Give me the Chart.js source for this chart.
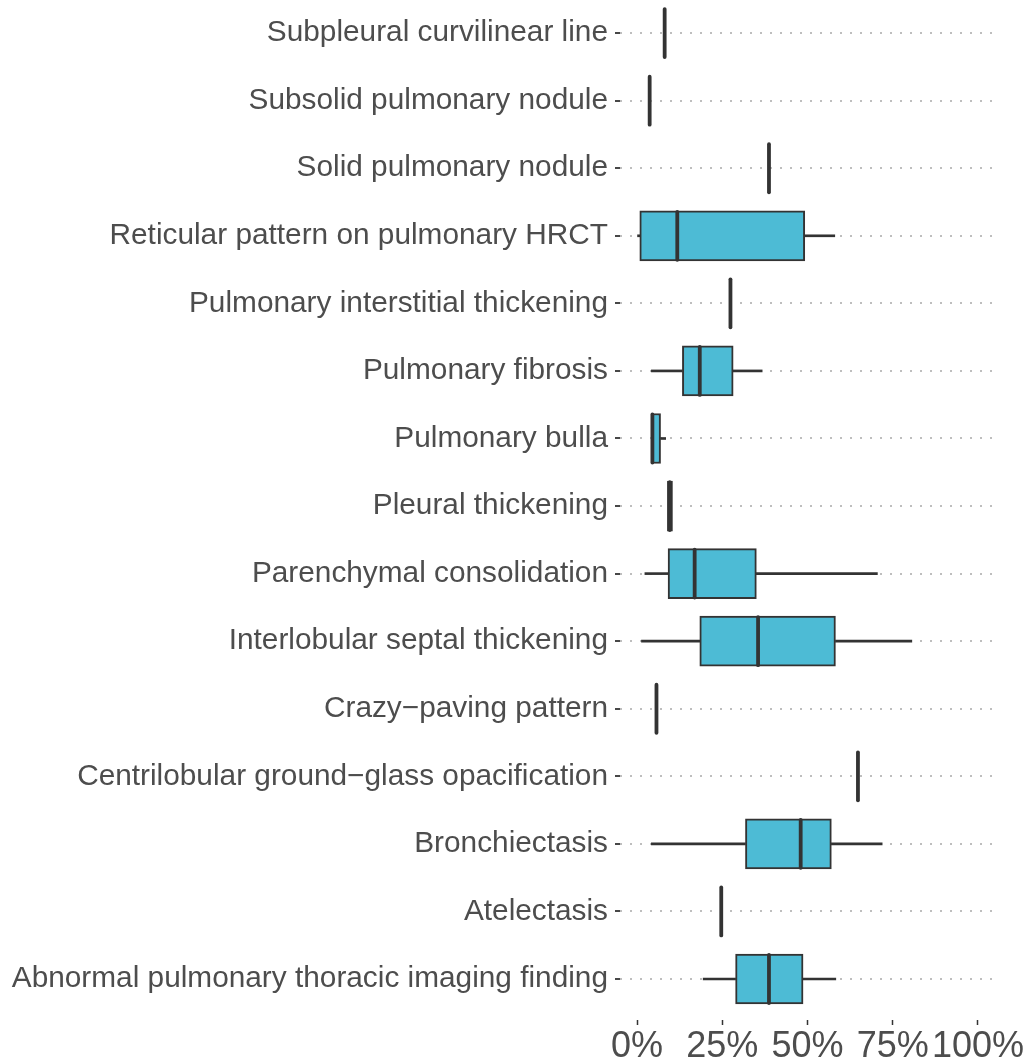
<!DOCTYPE html>
<html>
<head>
<meta charset="utf-8">
<script src="https://cdn.jsdelivr.net/npm/chart.js@4"></script>
<style>
  body { margin: 0; background: #fff; }
  #wrap { width: 1030px; height: 1063px; position: relative; }
</style>
</head>
<body>
<div id="wrap"><canvas id="boxChart"></canvas></div>
<script>
// categories, top to bottom
const categories = [
    'Subpleural curvilinear line',
    'Subsolid pulmonary nodule',
    'Solid pulmonary nodule',
    'Reticular pattern on pulmonary HRCT',
    'Pulmonary interstitial thickening',
    'Pulmonary fibrosis',
    'Pulmonary bulla',
    'Pleural thickening',
    'Parenchymal consolidation',
    'Interlobular septal thickening',
    'Crazy\u2212paving pattern',
    'Centrilobular ground\u2212glass opacification',
    'Bronchiectasis',
    'Atelectasis',
    'Abnormal pulmonary thoracic imaging finding'
];

// box plot stats in percent
const whiskerLow  = [ 8.1, 3.7, 38.7,  0.0, 27.4,  4.2, 4.2,  8.9,  2.3,  1.3, 5.7, 64.8,  4.2, 24.7, 19.4];
const boxLow      = [ 8.1, 3.7, 38.7,  0.8, 27.4, 13.3, 4.2,  8.9,  9.1, 18.4, 5.7, 64.8, 31.8, 24.7, 28.9];
const medians     = [ 8.1, 3.7, 38.7, 11.8, 27.4, 18.4, 4.5,  9.6, 16.9, 35.5, 5.7, 64.8, 48.0, 24.7, 38.7];
const boxHigh     = [ 8.1, 3.7, 38.7, 49.2, 27.4, 28.2, 6.9, 10.4, 35.0, 58.2, 5.7, 64.8, 57.0, 24.7, 48.7];
const whiskerHigh = [ 8.1, 3.7, 38.7, 58.0, 27.4, 36.7, 8.4, 10.4, 70.5, 80.6, 5.7, 64.8, 71.9, 24.7, 58.3];

const xTicks = [0, 25, 50, 75, 100];

// only keep segments that have a length
function segments(lo, hi) {
    const out = [];
    categories.forEach((c, i) => {
        if (hi[i] > lo[i]) out.push({ x: [lo[i], hi[i]], y: i });
    });
    return out;
}
const boxData = segments(boxLow, boxHigh);
const lowWhisker = segments(whiskerLow, boxLow);
const highWhisker = segments(boxHigh, whiskerHigh);

// median lines, drawn over the boxes
const medianPlugin = {
    id: 'medians',
    afterDatasetsDraw(chart) {
        const ctx = chart.ctx;
        const xs = chart.scales.x, ys = chart.scales.y;
        ctx.save();
        ctx.strokeStyle = '#333333';
        ctx.lineWidth = 3.8;
        ctx.lineCap = 'round';
        medians.forEach((m, i) => {
            const x = xs.getPixelForValue(m);
            const y = ys.getPixelForValue(i);
            ctx.beginPath();
            ctx.moveTo(x, y - 24);
            ctx.lineTo(x, y + 24);
            ctx.stroke();
        });
        ctx.restore();
    }
};

new Chart(document.getElementById('boxChart').getContext('2d'), {
    type: 'bar',
    data: {
        datasets: [{
            label: 'box',
            data: boxData,
            backgroundColor: '#4DBBD5',
            borderColor: '#333333',
            borderWidth: 2,
            borderSkipped: false,
            barThickness: 50,
            order: 1
        }, {
            label: 'whisker low',
            data: lowWhisker,
            backgroundColor: '#333333',
            borderWidth: 0,
            barThickness: 2,
            order: 2
        }, {
            label: 'whisker high',
            data: highWhisker,
            backgroundColor: '#333333',
            borderWidth: 0,
            barThickness: 2,
            order: 2
        }]
    },
    options: {
        indexAxis: 'y',
        responsive: true,
        maintainAspectRatio: false,
        animation: false,
        grouped: false,
        layout: { padding: { top: 0, right: 35, bottom: 0, left: 0 } },
        plugins: {
            legend: { display: false },
            tooltip: { enabled: false }
        },
        scales: {
            x: {
                type: 'linear',
                min: -5,
                max: 105,
                afterBuildTicks: (scale) => { scale.ticks = xTicks.map(v => ({ value: v })); },
                afterFit: (scale) => { scale.height = 43; scale.paddingLeft = 0; scale.paddingRight = 0; },
                grid: { drawOnChartArea: false, drawTicks: true, tickLength: 5, tickColor: '#333333', tickWidth: 1.5 },
                border: { display: false },
                ticks: {
                    padding: 0,
                    autoSkip: false,
                    color: '#4D4D4D',
                    font: { family: 'Liberation Sans, Arial, sans-serif', size: 36 },
                    maxRotation: 0,
                    callback: (v) => v + '%'
                }
            },
            y: {
                type: 'linear',
                reverse: true,
                offset: false,
                min: -0.49,
                max: 14.607,
                afterBuildTicks: (scale) => { scale.ticks = categories.map((c, i) => ({ value: i })); },
                afterFit: (scale) => { scale.width = 620; scale.paddingTop = 0; scale.paddingBottom = 0; },
                grid: {
                    offset: false,
                    color: '#BEBEBE',
                    lineWidth: 2,
                    tickLength: 5,
                    tickColor: '#333333',
                    tickWidth: 1.8,
                    tickBorderDash: [6, 0]
                },
                border: { display: false, dash: [2, 8] },
                ticks: {
                    padding: 7,
                    autoSkip: false,
                    color: '#4D4D4D',
                    font: { family: 'Liberation Sans, Arial, sans-serif', size: 29.8 },
                    callback: (v) => categories[v]
                }
            }
        }
    },
    plugins: [medianPlugin]
});
</script>
</body>
</html>
